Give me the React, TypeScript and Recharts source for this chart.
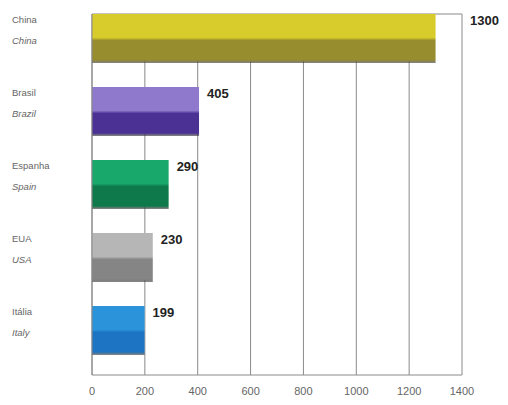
import React from 'react';
import { BarChart, Bar, XAxis, YAxis, CartesianGrid, Cell, LabelList } from 'recharts';

const categoriesPt = ['China', 'Brasil', 'Espanha', 'EUA', 'Itália'];
const categoriesEn = ['China', 'Brazil', 'Spain', 'USA', 'Italy'];
const values = [1300, 405, 290, 230, 199];
const xTicks = [0, 200, 400, 600, 800, 1000, 1200, 1400];
const topColors = ['#d8cc2c', '#8f79cc', '#18a86c', '#b6b6b6', '#2b93da'];
const bottomColors = ['#978c2e', '#4c3194', '#0e7a4b', '#858585', '#1c74c2'];

const data = categoriesPt.map((c, i) => ({ name: c, en: categoriesEn[i], value: values[i] }));

const W = 508;
const H = 405;
const M = { top: 14, right: 46, bottom: 0, left: 0 };
const PLOT_RIGHT = W - M.right;

const YTick = (props: any) => {
  const { y, payload } = props;
  const idx = categoriesPt.indexOf(payload.value);
  return (
    <g>
      <text x={12} y={y - 16} fontSize={9.5} fill="#666" fontFamily="'Liberation Sans', Arial, sans-serif">
        {payload.value}
      </text>
      <text x={12} y={y + 5} fontSize={9.5} fill="#666" fontStyle="italic" fontFamily="'Liberation Sans', Arial, sans-serif">
        {categoriesEn[idx]}
      </text>
    </g>
  );
};

const ValueLabel = (props: any) => {
  const { x, y, width, value } = props;
  const end = x + width;
  const lx = end + 8 + 36 > PLOT_RIGHT ? PLOT_RIGHT + 8 : end + 8;
  return (
    <text x={lx} y={y + 11} fontSize={13} fontWeight="bold" fill="#222" fontFamily="'Liberation Sans', Arial, sans-serif">
      {value}
    </text>
  );
};

export default function App() {
  return (
    <div style={{ position: 'absolute', left: 0, top: 0, width: W, height: H, background: '#fff' }}>
      <BarChart width={W} height={H} data={data} layout="vertical" margin={M} barCategoryGap={0}>
        <defs>
          {topColors.map((c, i) => (
            <linearGradient key={i} id={`g${i}`} x1="0" y1="0" x2="0" y2="1">
              <stop offset="0%" stopColor={c} />
              <stop offset="48%" stopColor={c} />
              <stop offset="54%" stopColor={bottomColors[i]} />
              <stop offset="94%" stopColor={bottomColors[i]} />
              <stop offset="100%" stopColor="#3a3a3a" stopOpacity={0.6} />
            </linearGradient>
          ))}
        </defs>
        <CartesianGrid
          vertical={true}
          horizontal={true}
          horizontalPoints={[14]}
          stroke="#8a8a8a"
          strokeWidth={1}
        />
        <XAxis
          type="number"
          domain={[0, 1400]}
          ticks={xTicks}
          interval={0}
          tickLine={false}
          axisLine={{ stroke: '#8a8a8a' }}
          height={30}
          tick={{ fontSize: 11, fill: '#666', fontFamily: "'Liberation Sans', Arial, sans-serif" }}
          tickMargin={6}
        />
        <YAxis
          type="category"
          dataKey="name"
          width={92}
          tickLine={false}
          axisLine={{ stroke: '#8a8a8a' }}
          padding={{ top: -12, bottom: 8 }}
          tick={<YTick />}
        />
        <Bar dataKey="value" barSize={49} isAnimationActive={false}>
          {data.map((d, i) => (
            <Cell key={i} fill={`url(#g${i})`} />
          ))}
          <LabelList dataKey="value" content={<ValueLabel />} />
        </Bar>
      </BarChart>
    </div>
  );
}
